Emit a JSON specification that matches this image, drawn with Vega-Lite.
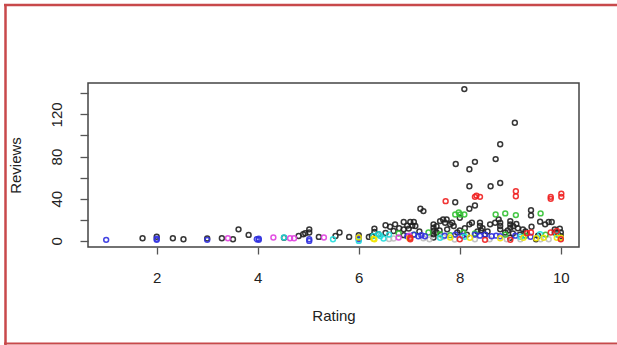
{
  "$schema": "https://vega.github.io/schema/vega-lite/v6.json",
  "width": 491,
  "height": 164,
  "autosize": "none",
  "padding": {"left": 88, "top": 83, "right": 38, "bottom": 98},
  "background": "white",
  "config": {
    "view": {"stroke": "#444", "strokeWidth": 1.5},
    "font": "Liberation Sans"
  },
  "layer": [
    {
      "data": {
        "values": [
          {"r":1.72,"v":2.5,"c":"k"},{"r":2.0,"v":4,"c":"k"},{"r":2.32,"v":2.5,"c":"k"},{"r":2.53,"v":1.6,"c":"k"},{"r":3.0,"v":2.3,"c":"k"},{"r":3.29,"v":2.5,"c":"k"},{"r":3.51,"v":1.6,"c":"k"},{"r":3.62,"v":11,"c":"k"},{"r":3.82,"v":5.7,"c":"k"},{"r":4.52,"v":3,"c":"k"},{"r":4.81,"v":4.7,"c":"k"},{"r":4.9,"v":6.3,"c":"k"},{"r":4.94,"v":7.3,"c":"k"},{"r":5.02,"v":11,"c":"k"},{"r":5.02,"v":8,"c":"k"},{"r":5.21,"v":3.8,"c":"k"},{"r":5.54,"v":4.7,"c":"k"},{"r":5.62,"v":8,"c":"k"},{"r":5.81,"v":3.8,"c":"k"},{"r":6.0,"v":5.4,"c":"k"},{"r":6.0,"v":3,"c":"k"},{"r":6.2,"v":3.8,"c":"k"},{"r":6.26,"v":4.7,"c":"k"},{"r":6.31,"v":11.7,"c":"k"},{"r":6.31,"v":8.5,"c":"k"},{"r":6.39,"v":6.3,"c":"k"},{"r":6.53,"v":14.8,"c":"k"},{"r":6.62,"v":13.5,"c":"k"},{"r":6.53,"v":7.5,"c":"k"},{"r":6.69,"v":9.4,"c":"k"},{"r":6.72,"v":15.7,"c":"k"},{"r":6.89,"v":17.9,"c":"k"},{"r":7.02,"v":17.9,"c":"k"},{"r":7.09,"v":17.9,"c":"k"},{"r":6.96,"v":14.5,"c":"k"},{"r":7.06,"v":14.5,"c":"k"},{"r":7.12,"v":14.1,"c":"k"},{"r":6.89,"v":11,"c":"k"},{"r":6.99,"v":11.7,"c":"k"},{"r":6.89,"v":5.5,"c":"k"},{"r":7.22,"v":30.5,"c":"k"},{"r":7.28,"v":28.3,"c":"k"},{"r":7.48,"v":15.7,"c":"k"},{"r":7.48,"v":12.6,"c":"k"},{"r":7.48,"v":9.4,"c":"k"},{"r":7.48,"v":6.3,"c":"k"},{"r":7.48,"v":3.2,"c":"k"},{"r":7.54,"v":14,"c":"k"},{"r":7.54,"v":8,"c":"k"},{"r":7.61,"v":18.8,"c":"k"},{"r":7.67,"v":20.4,"c":"k"},{"r":7.74,"v":20.4,"c":"k"},{"r":7.71,"v":17.3,"c":"k"},{"r":7.81,"v":15.7,"c":"k"},{"r":7.88,"v":14.1,"c":"k"},{"r":7.85,"v":17.3,"c":"k"},{"r":7.91,"v":36.7,"c":"k"},{"r":7.92,"v":73,"c":"k"},{"r":8.0,"v":22,"c":"k"},{"r":8.0,"v":10,"c":"k"},{"r":8.09,"v":144,"c":"k"},{"r":8.14,"v":6,"c":"k"},{"r":8.19,"v":68,"c":"k"},{"r":8.19,"v":51.8,"c":"k"},{"r":8.19,"v":30.5,"c":"k"},{"r":8.19,"v":15.7,"c":"k"},{"r":8.24,"v":17.3,"c":"k"},{"r":8.3,"v":75,"c":"k"},{"r":8.3,"v":33.6,"c":"k"},{"r":8.4,"v":17.3,"c":"k"},{"r":8.4,"v":14.1,"c":"k"},{"r":8.42,"v":10,"c":"k"},{"r":8.61,"v":51.8,"c":"k"},{"r":8.6,"v":15.7,"c":"k"},{"r":8.7,"v":17.3,"c":"k"},{"r":8.71,"v":77.6,"c":"k"},{"r":8.77,"v":20.4,"c":"k"},{"r":8.8,"v":91.7,"c":"k"},{"r":8.8,"v":55,"c":"k"},{"r":8.8,"v":17.3,"c":"k"},{"r":8.8,"v":14.1,"c":"k"},{"r":8.8,"v":11,"c":"k"},{"r":9.0,"v":18.8,"c":"k"},{"r":9.0,"v":15.7,"c":"k"},{"r":9.0,"v":12.6,"c":"k"},{"r":9.0,"v":3,"c":"k"},{"r":9.06,"v":14,"c":"k"},{"r":9.09,"v":112,"c":"k"},{"r":9.12,"v":16,"c":"k"},{"r":9.15,"v":12,"c":"k"},{"r":9.19,"v":6,"c":"k"},{"r":9.41,"v":29.2,"c":"k"},{"r":9.41,"v":24.2,"c":"k"},{"r":9.42,"v":13.5,"c":"k"},{"r":9.51,"v":1.6,"c":"k"},{"r":9.59,"v":18.3,"c":"k"},{"r":9.69,"v":15.7,"c":"k"},{"r":9.76,"v":17.9,"c":"k"},{"r":9.82,"v":17.9,"c":"k"},{"r":9.88,"v":11,"c":"k"},{"r":9.88,"v":8,"c":"k"},{"r":9.98,"v":11.7,"c":"k"},{"r":10.0,"v":8,"c":"k"},{"r":10.0,"v":4.5,"c":"k"},{"r":8.5,"v":6,"c":"k"},{"r":8.9,"v":8,"c":"k"},{"r":9.3,"v":9,"c":"k"},{"r":7.95,"v":8,"c":"k"},{"r":8.35,"v":9,"c":"k"},{"r":8.45,"v":12,"c":"k"},{"r":8.55,"v":9,"c":"k"},{"r":8.95,"v":10,"c":"k"},{"r":9.05,"v":7,"c":"k"},{"r":9.25,"v":11,"c":"k"},{"r":7.6,"v":10,"c":"k"},{"r":7.75,"v":11,"c":"k"},{"r":8.1,"v":12,"c":"k"},{"r":7.2,"v":9,"c":"k"},{"r":6.8,"v":12,"c":"k"},{"r":9.55,"v":5,"c":"k"},{"r":9.95,"v":6,"c":"k"},
          {"r":6.69,"v":2.3,"c":"s"},{"r":7.28,"v":2.5,"c":"s"},{"r":7.67,"v":4,"c":"s"},{"r":8.59,"v":1.6,"c":"s"},{"r":8.93,"v":1.6,"c":"s"},{"r":9.76,"v":1.6,"c":"s"},{"r":7.4,"v":1.5,"c":"s"},{"r":8.3,"v":1.5,"c":"s"},{"r":9.2,"v":1.5,"c":"s"},{"r":6.6,"v":1.8,"c":"s"},{"r":7.9,"v":1.4,"c":"s"},{"r":9.6,"v":1.6,"c":"s"},{"r":10.0,"v":2,"c":"s"},
          {"r":6.79,"v":7,"c":"g"},{"r":7.38,"v":8,"c":"g"},{"r":7.61,"v":6.3,"c":"g"},{"r":7.81,"v":5.5,"c":"g"},{"r":7.91,"v":25.1,"c":"g"},{"r":8.01,"v":25.1,"c":"g"},{"r":8.09,"v":25.1,"c":"g"},{"r":7.98,"v":27,"c":"g"},{"r":8.07,"v":8,"c":"g"},{"r":8.71,"v":25.1,"c":"g"},{"r":8.9,"v":26.1,"c":"g"},{"r":9.11,"v":24.5,"c":"g"},{"r":9.6,"v":26.1,"c":"g"},{"r":8.3,"v":7,"c":"g"},{"r":8.9,"v":6,"c":"g"},{"r":9.3,"v":5,"c":"g"},{"r":7.1,"v":6,"c":"g"},{"r":9.7,"v":6,"c":"g"},
          {"r":1.0,"v":1,"c":"b"},{"r":2.0,"v":1,"c":"b"},{"r":2.0,"v":2,"c":"b"},{"r":3.0,"v":1,"c":"b"},{"r":3.98,"v":1.6,"c":"b"},{"r":4.02,"v":2,"c":"b"},{"r":4.02,"v":1,"c":"b"},{"r":5.02,"v":1.6,"c":"b"},{"r":5.02,"v":0,"c":"b"},{"r":6.0,"v":1.6,"c":"b"},{"r":6.96,"v":4.5,"c":"b"},{"r":7.09,"v":6,"c":"b"},{"r":7.18,"v":4.5,"c":"b"},{"r":7.24,"v":5.5,"c":"b"},{"r":7.31,"v":4.5,"c":"b"},{"r":7.91,"v":6,"c":"b"},{"r":8.05,"v":5,"c":"b"},{"r":8.3,"v":6,"c":"b"},{"r":8.4,"v":5,"c":"b"},{"r":8.5,"v":6,"c":"b"},{"r":8.63,"v":4.5,"c":"b"},{"r":8.72,"v":5,"c":"b"},{"r":8.8,"v":4.5,"c":"b"},{"r":9.1,"v":5,"c":"b"},{"r":9.4,"v":4,"c":"b"},{"r":7.7,"v":5,"c":"b"},
          {"r":4.52,"v":3.2,"c":"c"},{"r":5.49,"v":1.6,"c":"c"},{"r":6.0,"v":0,"c":"c"},{"r":6.29,"v":4.7,"c":"c"},{"r":6.39,"v":6.3,"c":"c"},{"r":6.43,"v":4.7,"c":"c"},{"r":6.49,"v":2.3,"c":"c"},{"r":6.6,"v":6,"c":"c"},{"r":7.61,"v":3,"c":"c"},{"r":9.59,"v":6.3,"c":"c"},{"r":9.92,"v":6,"c":"c"},{"r":9.2,"v":4,"c":"c"},{"r":8.1,"v":4,"c":"c"},
          {"r":3.41,"v":2.5,"c":"m"},{"r":4.31,"v":3.2,"c":"m"},{"r":4.64,"v":2.5,"c":"m"},{"r":4.72,"v":2.5,"c":"m"},{"r":5.31,"v":3.2,"c":"m"},{"r":6.79,"v":3.2,"c":"m"},{"r":7.0,"v":5,"c":"m"},
          {"r":6.0,"v":3.2,"c":"y"},{"r":6.29,"v":2,"c":"y"},{"r":6.31,"v":1.6,"c":"y"},{"r":7.81,"v":3.2,"c":"y"},{"r":8.2,"v":3,"c":"y"},{"r":8.8,"v":2.5,"c":"y"},{"r":9.26,"v":3,"c":"y"},{"r":9.51,"v":2.5,"c":"y"},{"r":9.66,"v":3,"c":"y"},{"r":9.92,"v":3,"c":"y"},{"r":7.0,"v":2.5,"c":"y"},{"r":10.0,"v":3,"c":"y"},
          {"r":7.02,"v":1.6,"c":"r"},{"r":7.02,"v":3,"c":"r"},{"r":7.72,"v":37.7,"c":"r"},{"r":8.0,"v":1.6,"c":"r"},{"r":8.3,"v":41.8,"c":"r"},{"r":8.33,"v":43,"c":"r"},{"r":8.4,"v":41.8,"c":"r"},{"r":8.5,"v":1,"c":"r"},{"r":9.0,"v":1,"c":"r"},{"r":9.11,"v":47.1,"c":"r"},{"r":9.11,"v":42.4,"c":"r"},{"r":9.33,"v":7.3,"c":"r"},{"r":9.41,"v":8,"c":"r"},{"r":9.8,"v":41.8,"c":"r"},{"r":9.8,"v":39.9,"c":"r"},{"r":9.92,"v":9.4,"c":"r"},{"r":10.01,"v":44.9,"c":"r"},{"r":10.01,"v":41.8,"c":"r"},{"r":10.0,"v":1.6,"c":"r"},{"r":9.8,"v":8,"c":"r"}
        ]
      },
      "mark": {"type": "point", "shape": "circle", "filled": false, "size": 24, "strokeWidth": 1.5, "opacity": 0.9},
      "encoding": {
        "x": {
          "field": "r", "type": "quantitative",
          "scale": {"domain": [0.64, 10.36], "nice": false, "zero": false},
          "axis": {
            "title": "Rating", "values": [2, 4, 6, 8, 10], "grid": false, "domain": false,
            "tickColor": "#555", "tickSize": 7, "tickWidth": 1.3,
            "labelFontSize": 15, "labelColor": "#222", "labelPadding": 16,
            "titleFontSize": 15, "titleFontWeight": "normal", "titleColor": "#222", "titlePadding": 23
          }
        },
        "y": {
          "field": "v", "type": "quantitative",
          "scale": {"domain": [-5.76, 149.76], "nice": false, "zero": false},
          "axis": {
            "title": "Reviews", "values": [0, 20, 40, 60, 80, 100, 120, 140], "grid": false, "domain": false,
            "labelExpr": "datum.value % 40 == 0 ? datum.label : ''",
            "labelAngle": -90, "labelAlign": "center", "labelBaseline": "bottom",
            "tickColor": "#555", "tickSize": 8, "tickWidth": 1.3,
            "labelFontSize": 15, "labelColor": "#222", "labelPadding": 16,
            "titleFontSize": 15, "titleFontWeight": "normal", "titleColor": "#222", "titlePadding": 26
          }
        },
        "color": {
          "field": "c", "type": "nominal", "legend": null,
          "scale": {"domain": ["k","s","g","b","c","m","y","r"], "range": ["#222222","#BEBEBE","#33C233","#3030E0","#22DDDD","#E040E0","#F2E600","#F02020"]}
        }
      }
    },
    {
      "data": {"values": [{}]},
      "mark": {"type": "rule", "color": "#C8494B", "strokeWidth": 2.5, "clip": false},
      "encoding": {"x": {"value": -84}, "x2": {"value": 529}, "y": {"value": -78}}
    },
    {
      "data": {"values": [{}]},
      "mark": {"type": "rule", "color": "#C8494B", "strokeWidth": 2.5, "clip": false},
      "encoding": {"x": {"value": -82.5}, "y": {"value": -79}, "y2": {"value": 262}}
    },
    {
      "data": {"values": [{}]},
      "mark": {"type": "rule", "color": "#C8494B", "strokeWidth": 2, "clip": false},
      "encoding": {"x": {"value": -84}, "x2": {"value": 529}, "y": {"value": 260.5}}
    }
  ]
}
